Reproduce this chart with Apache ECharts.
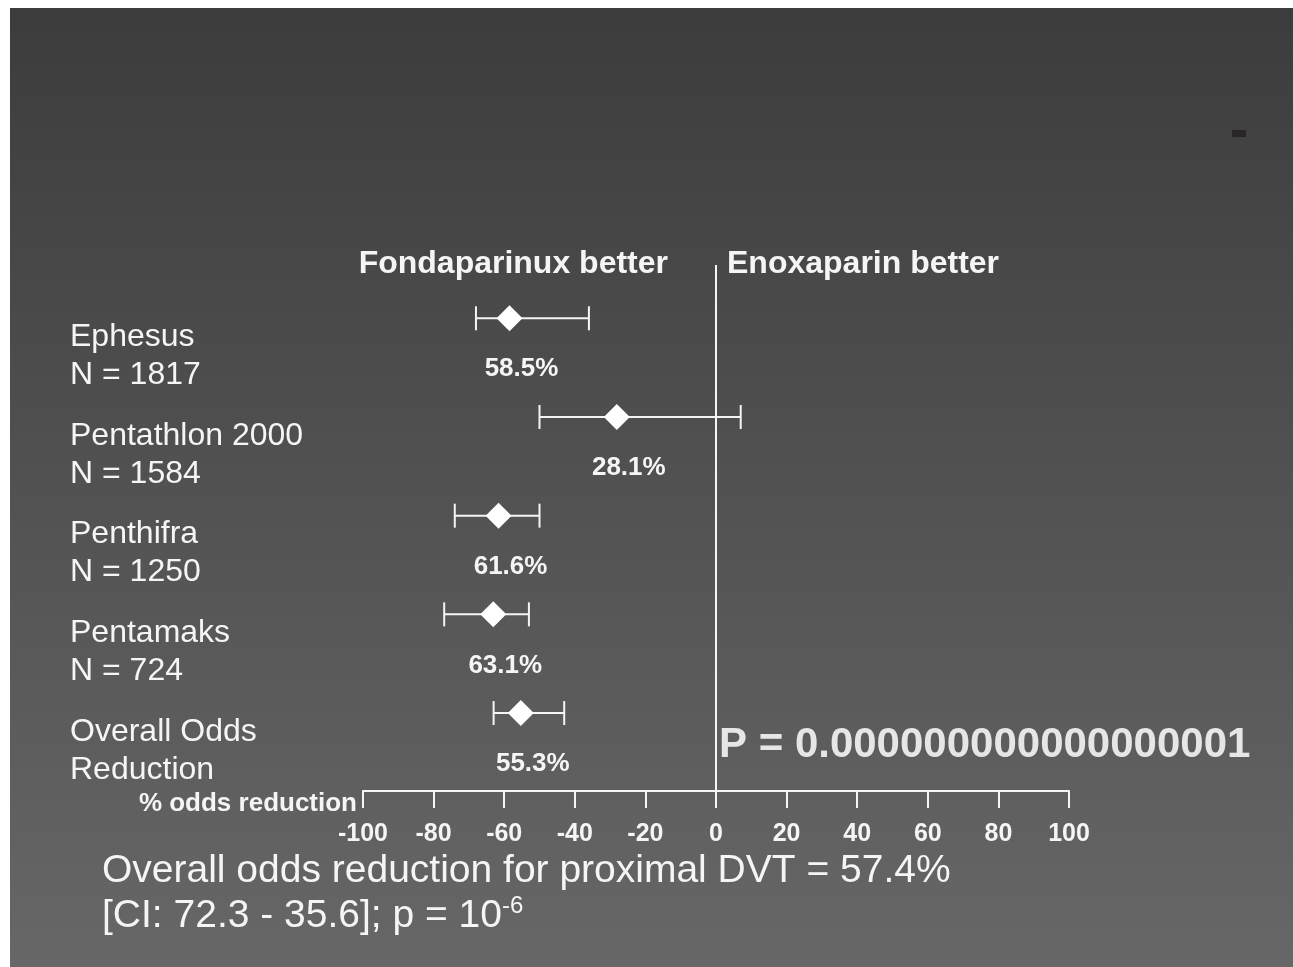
<!DOCTYPE html>
<html>
<head>
<meta charset="utf-8">
<script src="https://cdn.jsdelivr.net/npm/echarts@6/dist/echarts.min.js"></script>
<style>
html,body{margin:0;padding:0;background:#ffffff;}
#c{width:1293px;height:967px;}
</style>
</head>
<body>
<div id="c"></div>
<script>
// ---- data ----
const studies = ['Ephesus\nN = 1817', 'Pentathlon 2000\nN = 1584', 'Penthifra\nN = 1250', 'Pentamaks\nN = 724', 'Overall Odds\nReduction'];
const oddsReduction = [58.5, 28.1, 61.6, 63.1, 55.3];          // point estimate, % odds reduction
const ciLow  = [-68, -50, -74, -77, -63];                        // lower CI end (% change)
const ciHigh = [-36, 7, -50, -53, -43];                          // upper CI end (% change)
const xTicks = [-100, -80, -60, -40, -20, 0, 20, 40, 60, 80, 100];
const axisName = '% odds reduction';
const leftHeader = 'Fondaparinux better';
const rightHeader = 'Enoxaparin better';
const pText = 'P = 0.000000000000000001';
const footLine1 = 'Overall odds reduction for proximal DVT = 57.4%';
const footLine2 = '[CI: 72.3 - 35.6]; p = 10';
const footSup = '-6';

const WHITE = '#f5f5f5';
const SANS = "'Liberation Sans', Arial, sans-serif";

const chart = echarts.init(document.getElementById('c'), null, {renderer: 'canvas'});

const rows = studies.map((s, i) => i);

const option = {
  backgroundColor: '#ffffff',
  animation: false,
  grid: {left: 363, right: 224, top: 265, bottom: 176, containLabel: false, outerBoundsMode: 'none'},
  xAxis: {
    type: 'value',
    min: xTicks[0],
    max: xTicks[xTicks.length - 1],
    interval: 20,
    position: 'bottom',
    name: axisName,
    nameLocation: 'start',
    nameGap: 6,
    nameMoveOverlap: false,
    nameTextStyle: {color: WHITE, fontFamily: SANS, fontWeight: 'bold', fontSize: 26, align: 'right', verticalAlign: 'top'},
    axisLine: {show: true, onZero: false, lineStyle: {color: WHITE, width: 2}},
    axisTick: {show: true, length: 17, lineStyle: {color: WHITE, width: 2}},
    axisLabel: {color: WHITE, fontFamily: SANS, fontWeight: 'bold', fontSize: 25, margin: 31, hideOverlap: false,
      showMinLabel: true, showMaxLabel: true,
      formatter: v => (xTicks.indexOf(v) >= 0 ? String(v) : '')},
    splitLine: {show: false}
  },
  yAxis: {
    type: 'value',
    inverse: true,
    min: -0.54,
    max: 4.79,
    axisLine: {show: false},
    axisTick: {show: false},
    splitLine: {show: false},
    axisLabel: {
      show: true,
      customValues: rows,
      formatter: v => studies[Math.round(v)] || '',
      align: 'left',
      verticalAlign: 'top',
      margin: 293,
      color: WHITE,
      fontFamily: SANS,
      fontSize: 32,
      lineHeight: 38
    }
  },
  graphic: [
    {type: 'rect', z: -100, silent: true, shape: {x: 10, y: 8, width: 1283, height: 959},
      style: {fill: new echarts.graphic.LinearGradient(0, 0, 0, 1, [
        {offset: 0, color: '#3c3c3c'}, {offset: 1, color: '#676767'}])}},
    {type: 'rect', z: -99, silent: true, shape: {x: 1232, y: 130, width: 14, height: 7}, style: {fill: '#2a2626'}},
    {type: 'text', x: 668, y: 264, style: {text: leftHeader, align: 'right', verticalAlign: 'middle', fill: WHITE, font: 'bold 32px ' + SANS}},
    {type: 'text', x: 727, y: 264, style: {text: rightHeader, align: 'left', verticalAlign: 'middle', fill: WHITE, font: 'bold 32px ' + SANS}},
    {type: 'text', x: 719, y: 745, style: {text: pText, align: 'left', verticalAlign: 'middle', fill: '#e6e6e6', font: 'bold 42px ' + SANS}},
    {type: 'text', x: 102, y: 871, style: {text: footLine1, align: 'left', verticalAlign: 'middle', fill: WHITE, font: '39px ' + SANS}},
    {type: 'text', x: 102, y: 916, style: {
      text: '{a|' + footLine2 + '}{s|' + footSup + '}', align: 'left', verticalAlign: 'middle',
      rich: {
        a: {fill: WHITE, fontFamily: SANS, fontSize: 39, lineHeight: 44},
        s: {fill: WHITE, fontFamily: SANS, fontSize: 24, lineHeight: 44, verticalAlign: 'top'}
      }}}
  ],
  series: [
    {
      type: 'custom',
      name: 'CI',
      silent: true,
      data: rows.map(i => [i, ciLow[i], ciHigh[i]]),
      encode: {x: [1, 2], y: 0},
      renderItem: function (params, api) {
        const y = api.value(0);
        const a = api.coord([api.value(1), y]);
        const b = api.coord([api.value(2), y]);
        const h = 12;
        const st = {stroke: WHITE, lineWidth: 2};
        return {type: 'group', children: [
          {type: 'line', shape: {x1: a[0], y1: a[1], x2: b[0], y2: b[1]}, style: st},
          {type: 'line', shape: {x1: a[0], y1: a[1] - h, x2: a[0], y2: a[1] + h}, style: st},
          {type: 'line', shape: {x1: b[0], y1: b[1] - h, x2: b[0], y2: b[1] + h}, style: st}
        ]};
      }
    },
    {
      type: 'scatter',
      name: 'Estimate',
      silent: true,
      symbol: 'diamond',
      symbolSize: 26,
      itemStyle: {color: '#ffffff', opacity: 1},
      data: rows.map(i => [-oddsReduction[i], i]),
      label: {
        show: true,
        position: 'bottom',
        distance: 25,
        offset: [12, 0],
        formatter: p => oddsReduction[p.dataIndex].toFixed(1) + '%',
        color: WHITE,
        fontFamily: SANS,
        fontWeight: 'bold',
        fontSize: 26
      },
      markLine: {
        silent: true,
        symbol: 'none',
        label: {show: false},
        lineStyle: {color: WHITE, width: 2, type: 'solid'},
        data: [{xAxis: 0}]
      },
      z: 5
    }
  ]
};
chart.setOption(option);
</script>
</body>
</html>
